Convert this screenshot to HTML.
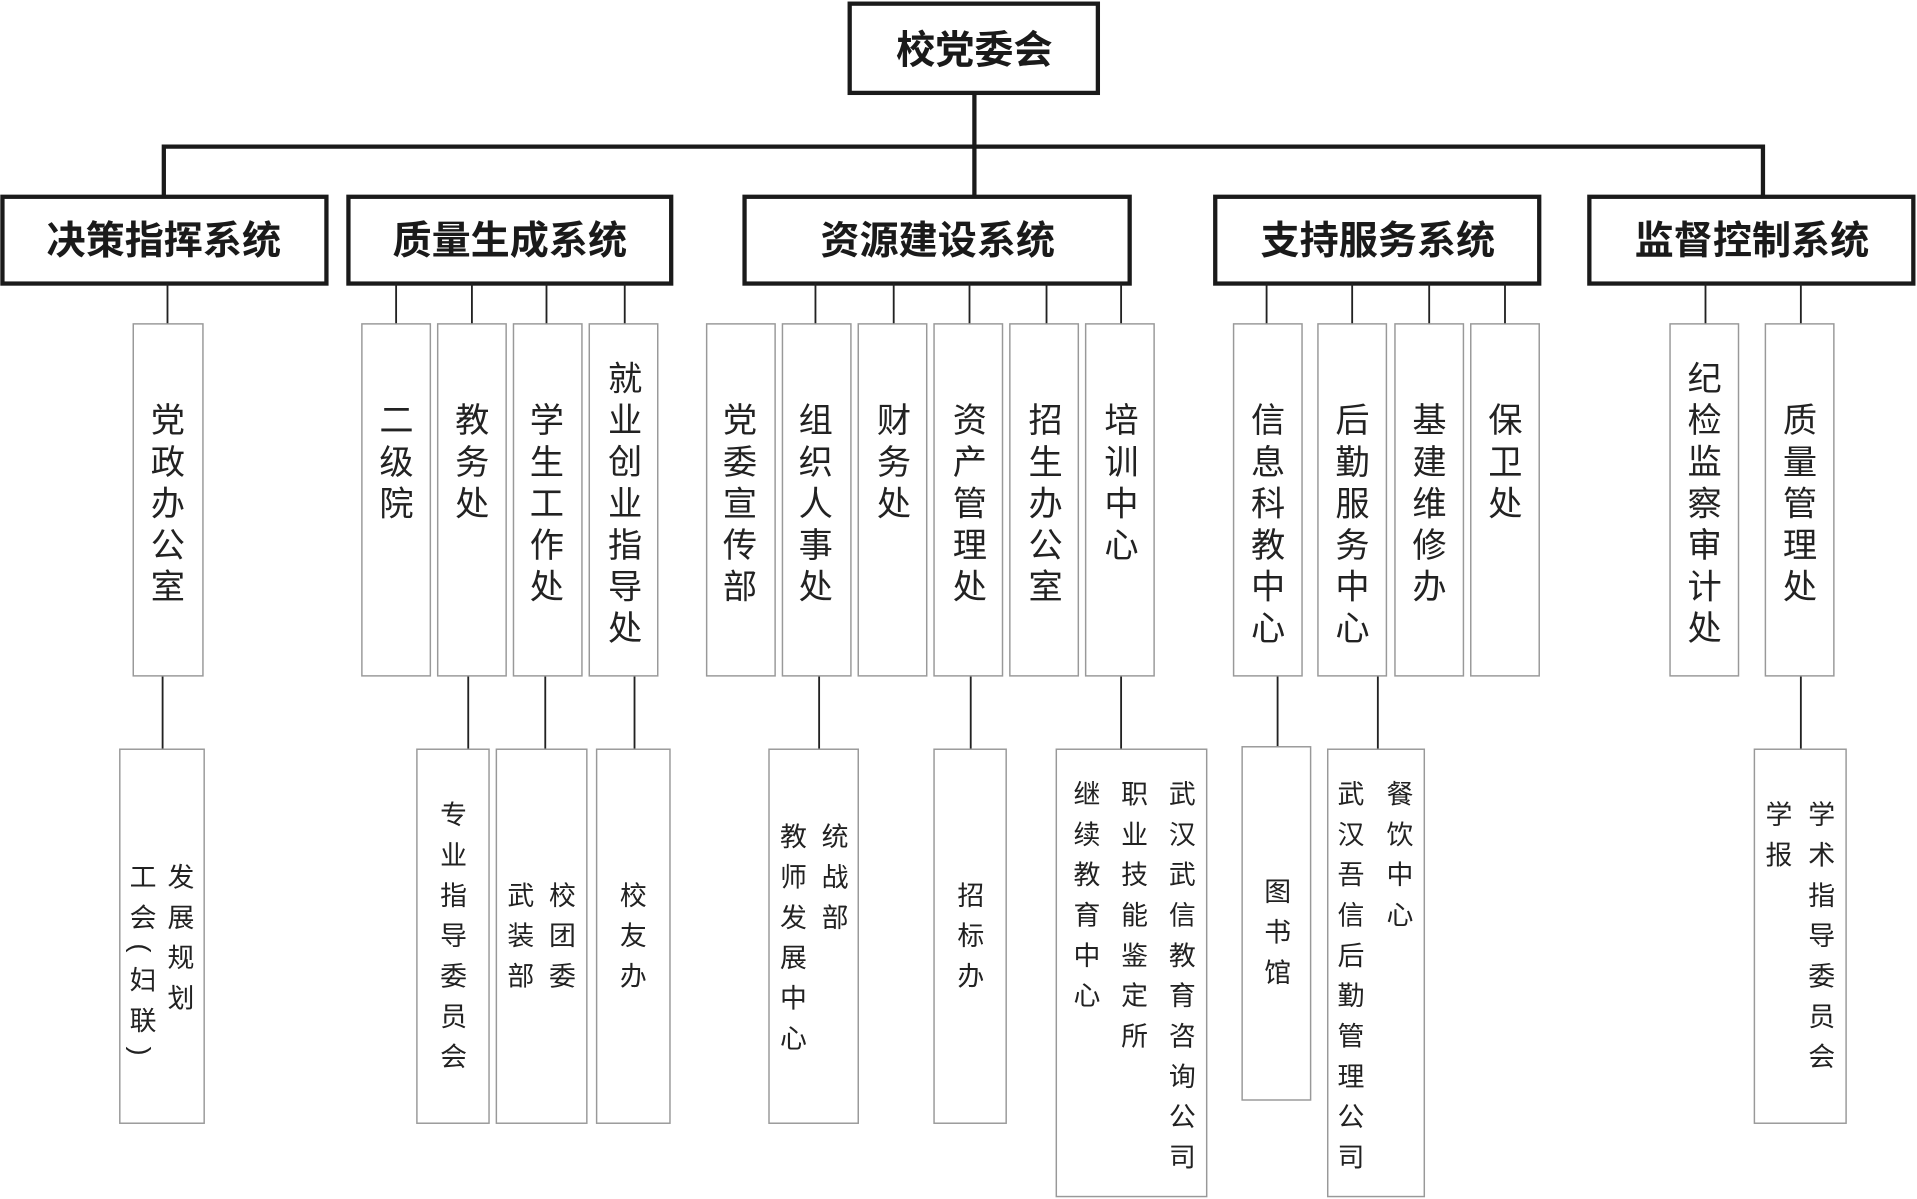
<!DOCTYPE html>
<html><head><meta charset="utf-8"><style>
html,body{margin:0;padding:0;background:#fff;width:1917px;height:1199px;overflow:hidden}
svg{display:block}
.b{font-family:"Liberation Sans","Noto Sans CJK SC",sans-serif;font-weight:bold;font-size:32px;fill:#1a1a1a}
.v2{font-family:"Liberation Sans","Noto Sans CJK SC",sans-serif;font-size:28px;fill:#222;writing-mode:vertical-rl;letter-spacing:6px}
.v3{font-family:"Liberation Sans","Noto Sans CJK SC",sans-serif;font-size:22px;fill:#222;writing-mode:vertical-rl;letter-spacing:11px}
</style></head><body>
<svg width="1917" height="1199" viewBox="0 0 1568 981" preserveAspectRatio="none">
<g fill="#fff" stroke="#1a1a1a" stroke-width="3.5">
<rect x="695" y="3" width="203" height="73"/>
<rect x="2" y="161" width="265" height="71"/>
<rect x="285" y="161" width="264" height="71"/>
<rect x="609" y="161" width="315" height="71"/>
<rect x="994" y="161" width="265" height="71"/>
<rect x="1300" y="161" width="265" height="71"/>
</g>
<g fill="none" stroke="#1a1a1a" stroke-width="3.5">
<path d="M797 77V161M134 161V120H1442V161"/>
</g>
<g text-anchor="middle" class="b">
<text x="797" y="52">校党委会</text>
<text x="134" y="208">决策指挥系统</text>
<text x="417" y="208">质量生成系统</text>
<text x="767" y="208">资源建设系统</text>
<text x="1127" y="208">支持服务系统</text>
<text x="1433" y="208">监督控制系统</text>
</g>
<g stroke="#222" stroke-width="1.5" fill="none">
<path d="M137 232V265M324 232V265M386 232V265M447 232V265M511 232V265M667 232V265M731 232V265M793 232V265M856 232V265M917 232V265M1036 232V265M1106 232V265M1169 232V265M1231 232V265M1395 232V265M1473 232V265"/>
<path d="M133 553V613M383 553V613M446 553V613M519 553V613M670 553V613M794 553V613M917 553V613M1045 553V611M1127 553V613M1473 553V613"/>
</g>
<g fill="#fff" stroke="#999" stroke-width="1.2">
<rect x="109" y="265" width="57" height="288"/>
<rect x="296" y="265" width="56" height="288"/><rect x="358" y="265" width="56" height="288"/><rect x="420" y="265" width="56" height="288"/><rect x="482" y="265" width="56" height="288"/>
<rect x="578" y="265" width="56" height="288"/><rect x="640" y="265" width="56" height="288"/><rect x="702" y="265" width="56" height="288"/><rect x="764" y="265" width="56" height="288"/><rect x="826" y="265" width="56" height="288"/><rect x="888" y="265" width="56" height="288"/>
<rect x="1009" y="265" width="56" height="288"/><rect x="1078" y="265" width="56" height="288"/><rect x="1141" y="265" width="56" height="288"/><rect x="1203" y="265" width="56" height="288"/>
<rect x="1366" y="265" width="56" height="288"/><rect x="1444" y="265" width="56" height="288"/>
<rect x="98" y="613" width="69" height="306"/>
<rect x="341" y="613" width="59" height="306"/><rect x="406" y="613" width="74" height="306"/><rect x="488" y="613" width="60" height="306"/>
<rect x="629" y="613" width="73" height="306"/><rect x="764" y="613" width="59" height="306"/>
<rect x="864" y="613" width="123" height="366"/>
<rect x="1016" y="611" width="56" height="289"/>
<rect x="1086" y="613" width="79" height="366"/>
<rect x="1435" y="613" width="75" height="306"/>
</g>
<g class="v2">
<text x="134" y="329">党政办公室</text>
<text x="321" y="329">二级院</text>
<text x="383" y="329">教务处</text>
<text x="444" y="329">学生工作处</text>
<text x="508" y="295">就业创业指导处</text>
<text x="602" y="329">党委宣传部</text>
<text x="664" y="329">组织人事处</text>
<text x="728" y="329">财务处</text>
<text x="790" y="329">资产管理处</text>
<text x="852" y="329">招生办公室</text>
<text x="914" y="329">培训中心</text>
<text x="1034" y="329">信息科教中心</text>
<text x="1103" y="329">后勤服务中心</text>
<text x="1166" y="329">基建维修办</text>
<text x="1228" y="329">保卫处</text>
<text x="1391" y="295">纪检监察审计处</text>
<text x="1469" y="329">质量管理处</text>
</g>
<g class="v3">
<text x="146" y="706">发展规划</text>
<text x="115" y="706">工会(妇联)</text>
<text x="369" y="655">专业指导委员会</text>
<text x="458" y="721">校团委</text>
<text x="424" y="721">武装部</text>
<text x="516" y="721">校友办</text>
<text x="681" y="673">统战部</text>
<text x="647" y="673">教师发展中心</text>
<text x="792" y="721">招标办</text>
<text x="965" y="638">武汉武信教育咨询公司</text>
<text x="926" y="638">职业技能鉴定所</text>
<text x="887" y="638">继续教育中心</text>
<text x="1043" y="718">图书馆</text>
<text x="1143" y="638">餐饮中心</text>
<text x="1103" y="638">武汉吾信后勤管理公司</text>
<text x="1488" y="655">学术指导委员会</text>
<text x="1453" y="655">学报</text>
</g>
</svg>
</body></html>
